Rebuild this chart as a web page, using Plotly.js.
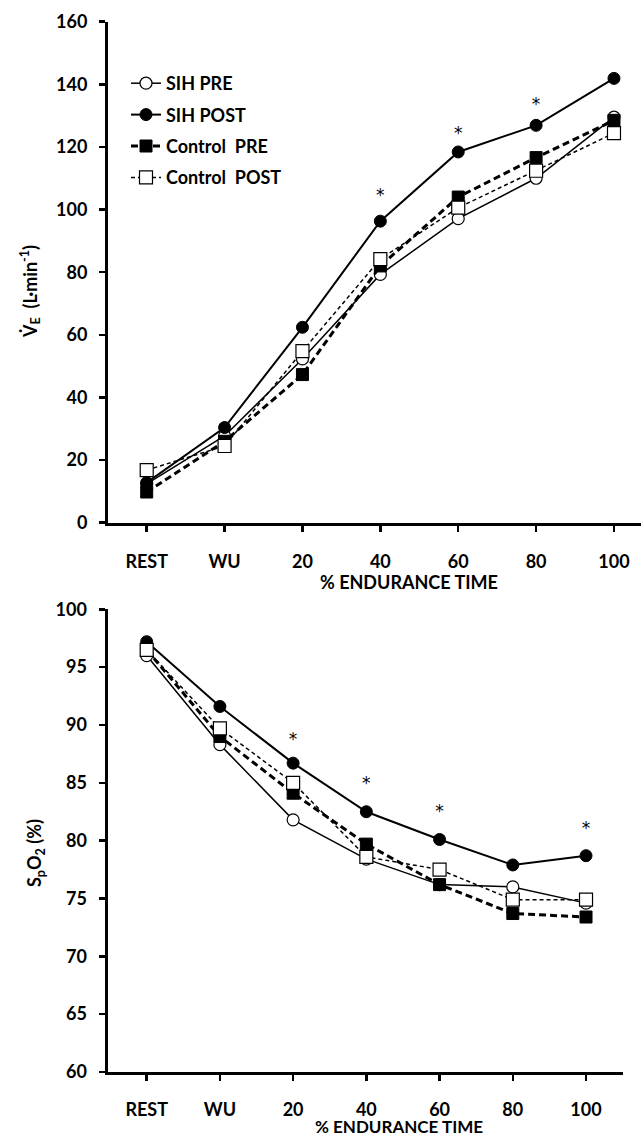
<!DOCTYPE html>
<html>
<head>
<meta charset="utf-8">
<script src="https://cdn.plot.ly/plotly-3.0.1.min.js"></script>
<style>html,body{margin:0;padding:0;background:#fff;}#chart{width:643px;height:1138px;}</style>
</head>
<body>
<div id="chart"></div>
<script>
// ---- data ----
const categories = ["REST", "WU", "20", "40", "60", "80", "100"];

// Top panel: minute ventilation (L·min-1)
const veSihPre      = [12.4, 27.7, 52.3, 79.3, 97.1, 110.0, 129.5];
const veSihPost     = [12.8, 30.4, 62.4, 96.3, 118.4, 126.9, 141.9];
const veControlPre  = [9.8, 26.0, 47.3, 82.0, 104.0, 116.6, 128.5];
const veControlPost = [16.8, 24.5, 54.8, 84.2, 100.6, 112.4, 124.4];
const veSigCats = ["40", "60", "80"];
const veSigY    = [104, 124, 133];

// Bottom panel: SpO2 (%)
const spSihPre      = [96.0, 88.3, 81.8, 78.4, 76.2, 76.0, 74.6];
const spSihPost     = [97.2, 91.6, 86.7, 82.5, 80.1, 77.9, 78.7];
const spControlPre  = [96.5, 89.0, 84.1, 79.7, 76.2, 73.7, 73.4];
const spControlPost = [96.5, 89.7, 85.0, 78.6, 77.5, 74.9, 74.9];
const spSigCats = ["20", "40", "60", "100"];
const spSigY    = [88.6, 84.8, 82.4, 80.9];

const seriesNames = ["SIH PRE", "SIH POST", "Control  PRE", "Control  POST"];

// ---- styles ----
const FONT = "Lato, 'Open Sans', sans-serif";
const styles = [
  {line: {color: "#000", width: 1.5, dash: "solid"}, marker: {symbol: "circle", size: 12, color: "#fff", line: {color: "#000", width: 1.2}}},
  {line: {color: "#000", width: 2, dash: "solid"}, marker: {symbol: "circle", size: 12, color: "#000", line: {color: "#000", width: 1}}},
  {line: {color: "#000", width: 3, dash: "7px,4px"}, marker: {symbol: "square", size: 12, color: "#000", line: {color: "#000", width: 1}}},
  {line: {color: "#000", width: 1.5, dash: "4px,3px"}, marker: {symbol: "square", size: 13, color: "#fff", line: {color: "#000", width: 1.2}}}
];

const topSets = [veSihPre, veSihPost, veControlPre, veControlPost];
const botSets = [spSihPre, spSihPost, spControlPre, spControlPost];

const traces = [];
topSets.forEach((ys, i) => {
  traces.push({
    type: "scatter", mode: "lines+markers", x: categories, y: ys,
    xaxis: "x", yaxis: "y", name: seriesNames[i], legendgroup: "g" + i,
    showlegend: true, line: styles[i].line, marker: styles[i].marker, cliponaxis: false
  });
});
botSets.forEach((ys, i) => {
  traces.push({
    type: "scatter", mode: "lines+markers", x: categories, y: ys,
    xaxis: "x2", yaxis: "y2", name: seriesNames[i], legendgroup: "g" + i,
    showlegend: false, line: styles[i].line, marker: styles[i].marker, cliponaxis: false
  });
});
function starTrace(cats, ys, xa, ya) {
  return {
    type: "scatter", mode: "text", x: cats, y: ys, text: cats.map(() => "*"),
    xaxis: xa, yaxis: ya, showlegend: false,
    textfont: {family: "'DejaVu Sans', sans-serif", size: 17, color: cats.map(() => "#000000")},
    marker: {color: "#000000"}
  };
}
traces.push(starTrace(veSigCats, veSigY, "x", "y"));
traces.push(starTrace(spSigCats, spSigY, "x2", "y2"));

const W = 643, H = 1138;
const axisCommon = {
  showline: true, linecolor: "#000", linewidth: 3, showgrid: false, zeroline: false,
  ticks: "outside", ticklen: 6, tickwidth: 2.5, tickcolor: "#000",
  tickfont: {family: FONT, size: 18, color: "#000", weight: "bold"}, fixedrange: true
};

const layout = {
  width: W, height: H,
  margin: {l: 0, r: 0, t: 0, b: 0},
  paper_bgcolor: "#fff", plot_bgcolor: "#fff",
  showlegend: true,
  legend: {
    x: 126 / W, y: 1 - 65 / H, xanchor: "left", yanchor: "top",
    bgcolor: "rgba(0,0,0,0)", traceorder: "grouped", tracegroupgap: 5,
    font: {family: FONT, size: 18, color: "#000", weight: "bold"}
  },
  xaxis: Object.assign({}, axisCommon, {
    type: "category", domain: [108 / W, 641 / W], range: [-0.497, 6.347],
    anchor: "y", ticklabelstandoff: 15
  }),
  yaxis: Object.assign({}, axisCommon, {
    domain: [1 - 522.7 / H, 1 - 21.7 / H], range: [0, 160], tickvals: [0, 20, 40, 60, 80, 100, 120, 140, 160],
    anchor: "x", ticklabelstandoff: 8
  }),
  xaxis2: Object.assign({}, axisCommon, {
    type: "category", domain: [107.5 / W, 623 / W], range: [-0.535, 6.505],
    anchor: "y2", ticklabelstandoff: 13
  }),
  yaxis2: Object.assign({}, axisCommon, {
    domain: [1 - 1072 / H, 1 - 609.3 / H], range: [60, 100], tickvals: [60, 65, 70, 75, 80, 85, 90, 95, 100],
    anchor: "x2", ticklabelstandoff: 8
  }),
  annotations: [
    {text: "V\u0307<sub>E</sub>  (L·min<sup>-1</sup>)", textangle: -90, xref: "paper", yref: "paper",
     x: 30 / W, y: 1 - 292 / H, xanchor: "center", yanchor: "middle", showarrow: false,
     font: {family: FONT, size: 18, color: "#000", weight: "bold"}},
    {text: "% ENDURANCE TIME", xref: "paper", yref: "paper", x: 409 / W, y: 1 - 582 / H,
     xanchor: "center", yanchor: "middle", showarrow: false,
     font: {family: FONT, size: 18, color: "#000", weight: "bold"}},
    {text: "S<sub>p</sub>O<sub>2</sub> (%)", textangle: -90, xref: "paper", yref: "paper",
     x: 35 / W, y: 1 - 853 / H, xanchor: "center", yanchor: "middle", showarrow: false,
     font: {family: FONT, size: 18, color: "#000", weight: "bold"}},
    {text: "% ENDURANCE TIME", xref: "paper", yref: "paper", x: 399 / W, y: 0, 
     xanchor: "center", yanchor: "bottom", showarrow: false, borderpad: 0,
     font: {family: FONT, size: 17, color: "#000", weight: "bold"}}
  ]
};

Plotly.newPlot("chart", traces, layout, {staticPlot: true, displayModeBar: false});
</script>
</body>
</html>
